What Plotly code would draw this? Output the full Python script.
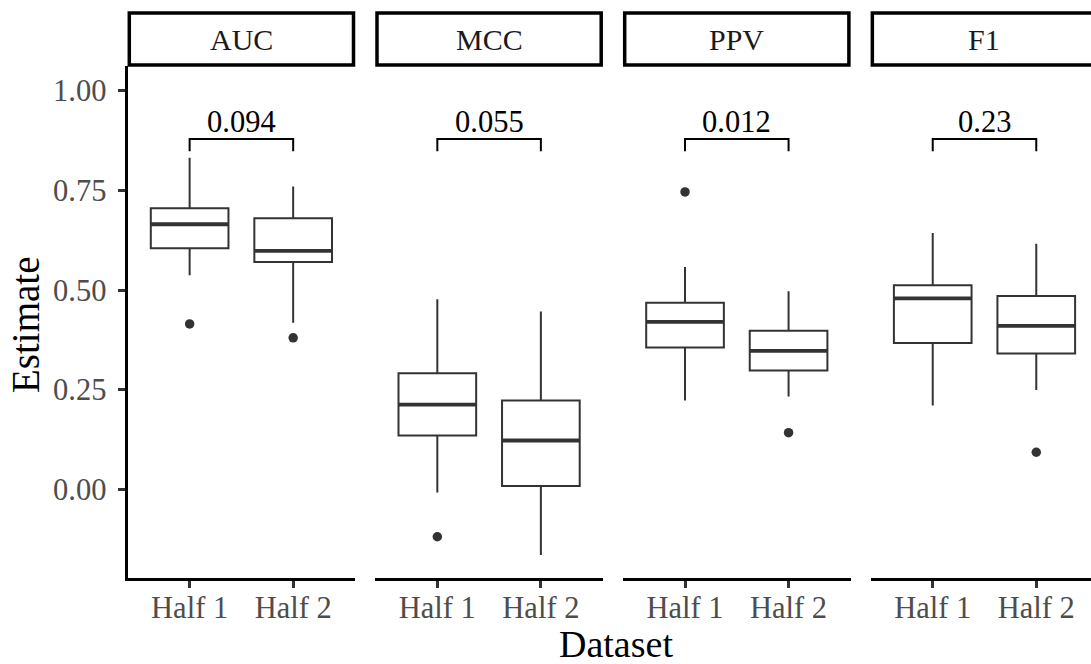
import plotly.graph_objects as go

# facet labels, groups and p-values
metrics = ["AUC", "MCC", "PPV", "F1"]
halves = ["Half 1", "Half 2"]
p_values = ["0.094", "0.055", "0.012", "0.23"]

# box statistics per metric: [Half 1, Half 2]
lower = [[0.537, 0.418], [-0.008, -0.165], [0.223, 0.233], [0.210, 0.249]]
q1 = [[0.605, 0.570], [0.135, 0.008], [0.356, 0.298], [0.367, 0.341]]
median = [[0.665, 0.598], [0.2125, 0.1225], [0.420, 0.3475], [0.479, 0.410]]
q3 = [[0.705, 0.680], [0.291, 0.2225], [0.468, 0.3975], [0.512, 0.485]]
upper = [[0.832, 0.760], [0.477, 0.446], [0.558, 0.497], [0.643, 0.616]]
outliers = [[[0.415], [0.380]], [[-0.119], []], [[0.746], [0.142]], [[], [0.093]]]

y_ticks = [0.0, 0.25, 0.5, 0.75, 1.0]

W, H = 1091, 664
FONT = "Liberation Serif"
DARK = "#333333"
BOX_W = 0.75

# panel geometry in pixels
left0, step, pw = 127.5, 247.7, 227.8
top_px, bottom_px = 66, 578
strip_top, strip_bot = 13, 65

fig = go.Figure()
layout = dict(
    width=W, height=H,
    margin=dict(l=0, r=0, t=0, b=0),
    paper_bgcolor="white", plot_bgcolor="white",
    showlegend=False, hovermode=False,
    template="none",
    font=dict(family=FONT, color="#4D4D4D"),
)
shapes, annotations = [], []

for i, m in enumerate(metrics):
    xr = "x" if i == 0 else f"x{i + 1}"
    xa = "xaxis" if i == 0 else f"xaxis{i + 1}"
    left = (left0 + i * step) / W
    right = (left0 + i * step + pw) / W
    rng = [0.4, 2.6]
    if right > 1:
        rng[1] = 0.4 + 2.2 * (1 - left) / (right - left)
        right = 1.0
    layout[xa] = dict(
        domain=[left, right], range=rng, anchor="y",
        tickvals=[1, 2], ticktext=halves,
        showgrid=False, zeroline=False,
        showline=True, linecolor="black", linewidth=3,
        ticks="outside", ticklen=7, tickwidth=3, tickcolor=DARK,
        ticklabelstandoff=-7,
        tickfont=dict(size=30.5, color="#4D4D4D", family=FONT),
        automargin=False, fixedrange=True,
    )

    for j in range(2):
        pos = j + 1
        fig.add_trace(go.Box(
            x=[pos], q1=[q1[i][j]], median=[median[i][j]], q3=[q3[i][j]],
            lowerfence=[lower[i][j]], upperfence=[upper[i][j]],
            width=BOX_W, whiskerwidth=0, boxpoints=False,
            fillcolor="white", line=dict(color=DARK, width=2),
            xaxis=xr, yaxis="y",
        ))
        fig.add_trace(go.Scatter(
            x=[pos - BOX_W / 2, pos + BOX_W / 2], y=[median[i][j]] * 2,
            mode="lines", line=dict(color=DARK, width=3.8),
            xaxis=xr, yaxis="y",
        ))
        if outliers[i][j]:
            fig.add_trace(go.Scatter(
                x=[pos] * len(outliers[i][j]), y=outliers[i][j],
                mode="markers", marker=dict(color=DARK, size=9.5),
                xaxis=xr, yaxis="y",
            ))

    # comparison bracket with p-value
    shapes.append(dict(
        type="path", xref=xr, yref="y",
        path="M 1,0.848 L 1,0.879 L 2,0.879 L 2,0.848",
        line=dict(color="black", width=2),
    ))
    annotations.append(dict(
        text=p_values[i], xref=xr, yref="y", x=1.5, y=0.922,
        showarrow=False, xanchor="center", yanchor="middle",
        font=dict(size=30.5, color="black", family=FONT),
    ))

    # facet strip
    x1 = (pw - 1.8) / (right * W - left * W)
    shapes.append(dict(
        type="rect", xref=f"{xr} domain", yref="paper",
        x0=1.8 / pw, x1=x1, y0=1 - strip_bot / H, y1=1 - strip_top / H,
        line=dict(color="black", width=3.5), fillcolor="white",
    ))
    annotations.append(dict(
        text=m, xref=f"{xr} domain", yref="paper",
        x=(left0 + i * step + pw / 2 - left * W) / (right * W - left * W),
        y=1 - 40 / H, showarrow=False, xanchor="center", yanchor="middle",
        font=dict(size=30, color="#1A1A1A", family=FONT),
    ))

layout["yaxis"] = dict(
    domain=[1 - bottom_px / H, 1 - top_px / H], range=[-0.2225, 1.062],
    anchor="x", tickvals=y_ticks, ticktext=[f"{v:.2f}" for v in y_ticks],
    showgrid=False, zeroline=False,
    showline=True, linecolor="black", linewidth=3,
    ticks="outside", ticklen=7, tickwidth=3, tickcolor=DARK,
    ticklabelstandoff=5,
    tickfont=dict(size=30.5, color="#4D4D4D", family=FONT),
    automargin=False, fixedrange=True,
)

# axis titles
annotations.append(dict(
    text="Dataset", xref="paper", yref="paper", x=616 / W, y=1 - 644 / H,
    showarrow=False, xanchor="center", yanchor="middle",
    font=dict(size=38, color="black", family=FONT),
))
annotations.append(dict(
    text="Estimate", xref="paper", yref="paper", x=25 / W, y=1 - 325 / H,
    showarrow=False, xanchor="center", yanchor="middle", textangle=-90,
    font=dict(size=39, color="black", family=FONT),
))

layout["shapes"] = shapes
layout["annotations"] = annotations
fig.update_layout(**layout)

fig.write_html(
    "out.html",
    config={"displayModeBar": False, "staticPlot": True},
    post_script="document.body.style.margin='0';document.body.style.overflow='hidden';",
)
